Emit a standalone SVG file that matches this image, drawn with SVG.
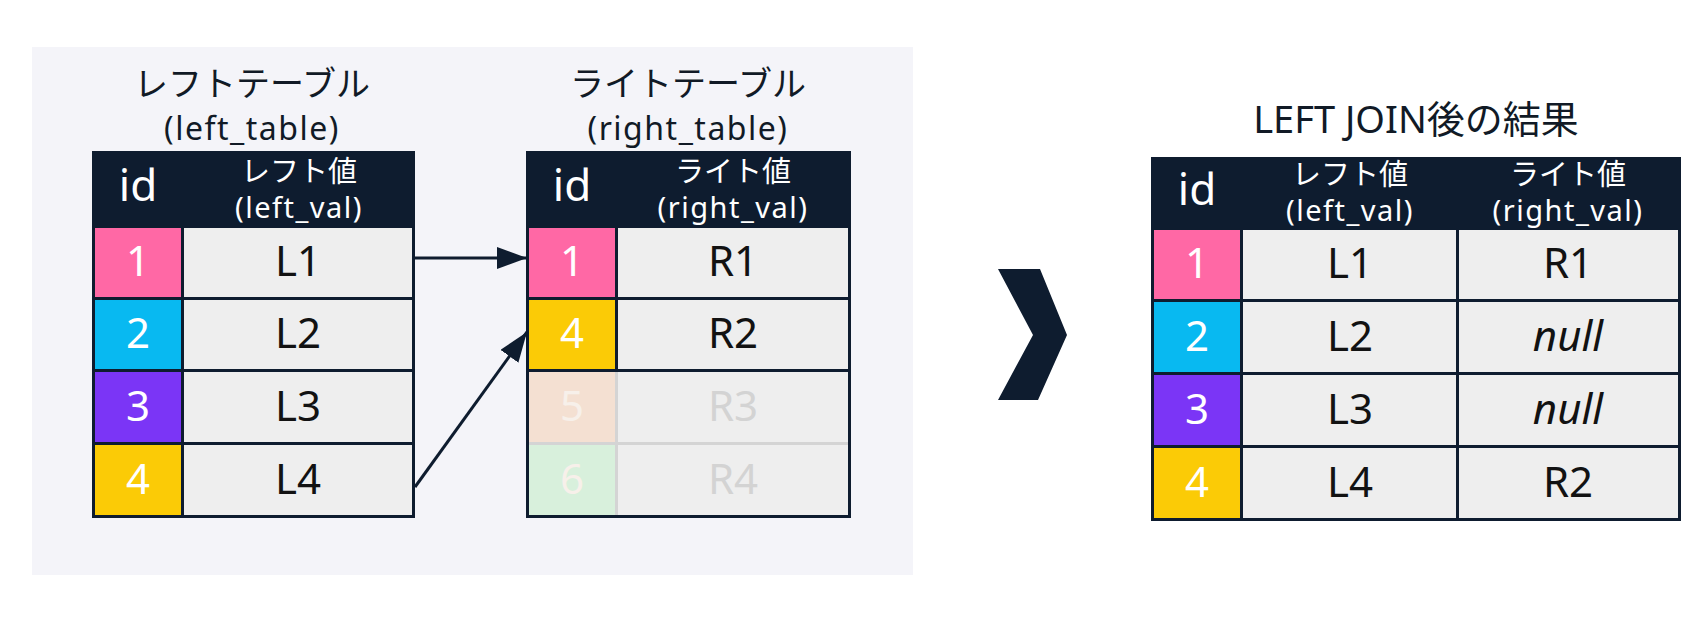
<svg xmlns="http://www.w3.org/2000/svg" width="1706" height="624" viewBox="0 0 1706 624">
<defs>
<style>
.t{font-family:"Noto Sans","Noto Sans CJK JP",sans-serif;text-anchor:middle}
.title{font-size:34px;fill:#111a26}
.sub{font-size:32px;fill:#111a26;letter-spacing:1.5px}
.hid{font-size:44px;fill:#ffffff}
.hcj{font-size:29px;fill:#ffffff}
.hla{font-size:29px;fill:#ffffff;letter-spacing:1.5px}
.num{font-size:42px;fill:#ffffff}
.val{font-size:42px;fill:#121212}
.nul{font-size:42px;fill:#121212;font-style:italic}
.fnum{font-size:42px;fill:#f7f0ea}
.fval{font-size:42px;fill:#d3d3d3}
.navy{fill:#0e1c2f}
.cell{fill:#eeeeee}
.pink{fill:#ff68a5}
.cyan{fill:#08b9f1}
.purple{fill:#7b35f6}
.yellow{fill:#fbcb06}
.conn{stroke:#0e1c2f;stroke-width:3;fill:none}
</style>
<marker id="ah" markerUnits="userSpaceOnUse" markerWidth="30" markerHeight="22" refX="30" refY="11" orient="auto">
<path d="M0,0 L30,11 L0,22 z" fill="#0e1c2f"/>
</marker>
</defs>
<rect x="0" y="0" width="1706" height="624" fill="#ffffff"/>
<rect id="panel" x="32" y="47" width="881" height="528" fill="#f4f4f9"/>

<g id="left-table">
<text class="t title" x="252" y="96">レフトテーブル</text>
<text class="t sub" x="252" y="140">(left_table)</text>
<rect class="navy" x="92" y="151" width="323" height="367"/>
<text class="t hid" x="138" y="201">id</text>
<text class="t hcj" x="299" y="182">レフト値</text>
<text class="t hla" x="299" y="218">(left_val)</text>
<rect class="pink" x="95" y="228" width="86" height="69"/>
<rect class="cell" x="184" y="228" width="228" height="69"/>
<text class="t num" x="138" y="276">1</text>
<text class="t val" x="298" y="276">L1</text>
<rect class="cyan" x="95" y="300" width="86" height="69"/>
<rect class="cell" x="184" y="300" width="228" height="69"/>
<text class="t num" x="138" y="348">2</text>
<text class="t val" x="298" y="348">L2</text>
<rect class="purple" x="95" y="372" width="86" height="70"/>
<rect class="cell" x="184" y="372" width="228" height="70"/>
<text class="t num" x="138" y="421">3</text>
<text class="t val" x="298" y="421">L3</text>
<rect class="yellow" x="95" y="445" width="86" height="70"/>
<rect class="cell" x="184" y="445" width="228" height="70"/>
<text class="t num" x="138" y="494">4</text>
<text class="t val" x="298" y="494">L4</text>
</g>

<g id="right-table">
<text class="t title" x="688" y="96">ライトテーブル</text>
<text class="t sub" x="688" y="140">(right_table)</text>
<rect class="navy" x="526" y="151" width="325" height="367"/>
<text class="t hid" x="572" y="201">id</text>
<text class="t hcj" x="733" y="182">ライト値</text>
<text class="t hla" x="733" y="218">(right_val)</text>
<rect class="pink" x="529" y="228" width="86" height="69"/>
<rect class="cell" x="618" y="228" width="230" height="69"/>
<text class="t num" x="572" y="276">1</text>
<text class="t val" x="733" y="276">R1</text>
<rect class="yellow" x="529" y="300" width="86" height="69"/>
<rect class="cell" x="618" y="300" width="230" height="69"/>
<text class="t num" x="572" y="348">4</text>
<text class="t val" x="733" y="348">R2</text>
<rect x="529" y="372" width="319" height="143" fill="#d4d4d4"/>
<rect x="529" y="372" width="86" height="70" fill="#f4e0d2"/>
<rect class="cell" x="618" y="372" width="230" height="70"/>
<text class="t fnum" x="572" y="421">5</text>
<text class="t fval" x="733" y="421">R3</text>
<rect x="529" y="445" width="86" height="70" fill="#d8f0dc"/>
<rect class="cell" x="618" y="445" width="230" height="70"/>
<text class="t fnum" x="572" y="494">6</text>
<text class="t fval" x="733" y="494">R4</text>
</g>

<g id="connectors">
<line class="conn" x1="415" y1="258" x2="527" y2="258" marker-end="url(#ah)"/>
<line class="conn" x1="415" y1="487" x2="527" y2="332" marker-end="url(#ah)"/>
</g>

<g id="chevron">
<polygon points="998,269 1040,269 1067,335 1038,400 998,400 1033,335" fill="#0e1c2f"/>
</g>

<g id="result-table">
<text class="t" x="1416" y="133" style="font-size:38px;fill:#111a26">LEFT JOIN後の結果</text>
<rect class="navy" x="1151" y="157" width="530" height="364"/>
<text class="t hid" x="1197" y="205">id</text>
<text class="t hcj" x="1350" y="185">レフト値</text>
<text class="t hla" x="1350" y="221">(left_val)</text>
<text class="t hcj" x="1568" y="185">ライト値</text>
<text class="t hla" x="1568" y="221">(right_val)</text>
<rect class="pink" x="1154" y="230" width="86" height="69"/>
<rect class="cell" x="1243" y="230" width="213" height="69"/>
<rect class="cell" x="1459" y="230" width="219" height="69"/>
<text class="t num" x="1197" y="278">1</text>
<text class="t val" x="1350" y="278">L1</text>
<text class="t val" x="1568" y="278">R1</text>
<rect class="cyan" x="1154" y="302" width="86" height="70"/>
<rect class="cell" x="1243" y="302" width="213" height="70"/>
<rect class="cell" x="1459" y="302" width="219" height="70"/>
<text class="t num" x="1197" y="351">2</text>
<text class="t val" x="1350" y="351">L2</text>
<text class="t nul" x="1568" y="351">null</text>
<rect class="purple" x="1154" y="375" width="86" height="70"/>
<rect class="cell" x="1243" y="375" width="213" height="70"/>
<rect class="cell" x="1459" y="375" width="219" height="70"/>
<text class="t num" x="1197" y="424">3</text>
<text class="t val" x="1350" y="424">L3</text>
<text class="t nul" x="1568" y="424">null</text>
<rect class="yellow" x="1154" y="448" width="86" height="70"/>
<rect class="cell" x="1243" y="448" width="213" height="70"/>
<rect class="cell" x="1459" y="448" width="219" height="70"/>
<text class="t num" x="1197" y="497">4</text>
<text class="t val" x="1350" y="497">L4</text>
<text class="t val" x="1568" y="497">R2</text>
</g>
</svg>
